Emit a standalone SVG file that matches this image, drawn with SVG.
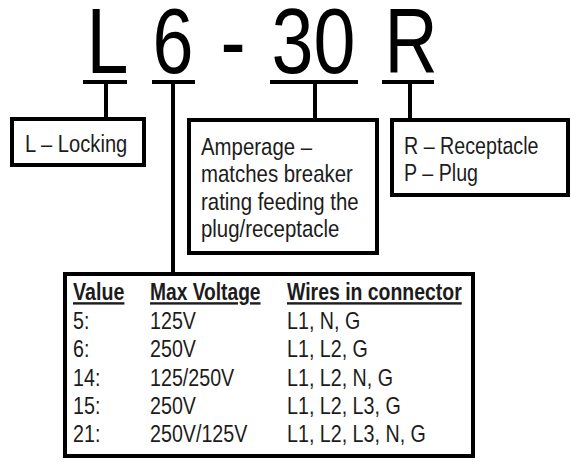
<svg xmlns="http://www.w3.org/2000/svg" width="571" height="462" viewBox="0 0 571 462">
<style>
.big{font-family:"Liberation Sans",Arial,sans-serif;font-size:92px;fill:#000;text-anchor:middle}
.t{font-family:"Liberation Sans",Arial,sans-serif;font-size:24px;fill:#1c1c1c}
.h{font-weight:bold;text-decoration:underline}
.box{fill:#fff;stroke:#000;stroke-width:4}
.ln{stroke:#000;stroke-width:4;fill:none}
</style>
<rect width="571" height="462" fill="#fff"/>
<g id="code">
<text class="big" transform="translate(107.5 73) scale(0.82 1)">L</text>
<text class="big" transform="translate(173 73) scale(0.8 1)">6</text>
<text class="big" transform="translate(233 73) scale(0.82 1)">-</text>
<text class="big" transform="translate(313.5 73) scale(0.82 1)">30</text>
<text class="big" transform="translate(411 73) scale(0.8 1)">R</text>
</g>
<g id="connectors">
<line class="ln" x1="83" y1="82" x2="127" y2="82"/>
<line class="ln" x1="152" y1="82" x2="195" y2="82"/>
<line class="ln" x1="270" y1="82" x2="358" y2="82"/>
<line class="ln" x1="382" y1="82" x2="434" y2="82"/>
<line class="ln" x1="106" y1="82" x2="106" y2="119"/>
<line class="ln" x1="173" y1="82" x2="173" y2="274"/>
<line class="ln" x1="315" y1="82" x2="315" y2="120"/>
<line class="ln" x1="410" y1="82" x2="410" y2="120"/>
</g>
<g id="locking">
<rect class="box" x="12" y="119" width="132" height="46"/>
<text class="t" transform="translate(25 152) scale(0.84 1)">L – Locking</text>
</g>
<g id="amperage">
<rect class="box" x="189" y="120" width="188" height="133"/>
<text class="t" transform="translate(201 155) scale(0.85 1)">Amperage –</text>
<text class="t" transform="translate(201 182) scale(0.85 1)">matches breaker</text>
<text class="t" transform="translate(201 210) scale(0.85 1)">rating feeding the</text>
<text class="t" transform="translate(201 237) scale(0.85 1)">plug/receptacle</text>
</g>
<g id="type">
<rect class="box" x="392" y="120" width="176" height="75"/>
<text class="t" transform="translate(404 154) scale(0.82 1)">R – Receptacle</text>
<text class="t" transform="translate(404 181) scale(0.82 1)">P – Plug</text>
</g>
<g id="table">
<rect class="box" x="65" y="274" width="408" height="182"/>
<text class="t h" transform="translate(73 300) scale(0.82 1)">Value</text>
<text class="t h" transform="translate(150 300) scale(0.8 1)">Max Voltage</text>
<text class="t h" transform="translate(287 300) scale(0.81 1)">Wires in connector</text>
<text class="t" transform="translate(73 329) scale(0.82 1)">5:</text>
<text class="t" transform="translate(150 329) scale(0.82 1)">125V</text>
<text class="t" transform="translate(287 329) scale(0.82 1)">L1, N, G</text>
<text class="t" transform="translate(73 357) scale(0.82 1)">6:</text>
<text class="t" transform="translate(150 357) scale(0.82 1)">250V</text>
<text class="t" transform="translate(287 357) scale(0.82 1)">L1, L2, G</text>
<text class="t" transform="translate(73 386) scale(0.82 1)">14:</text>
<text class="t" transform="translate(150 386) scale(0.82 1)">125/250V</text>
<text class="t" transform="translate(287 386) scale(0.82 1)">L1, L2, N, G</text>
<text class="t" transform="translate(73 414) scale(0.82 1)">15:</text>
<text class="t" transform="translate(150 414) scale(0.82 1)">250V</text>
<text class="t" transform="translate(287 414) scale(0.82 1)">L1, L2, L3, G</text>
<text class="t" transform="translate(73 442) scale(0.82 1)">21:</text>
<text class="t" transform="translate(150 442) scale(0.82 1)">250V/125V</text>
<text class="t" transform="translate(287 442) scale(0.82 1)">L1, L2, L3, N, G</text>
</g>
</svg>
